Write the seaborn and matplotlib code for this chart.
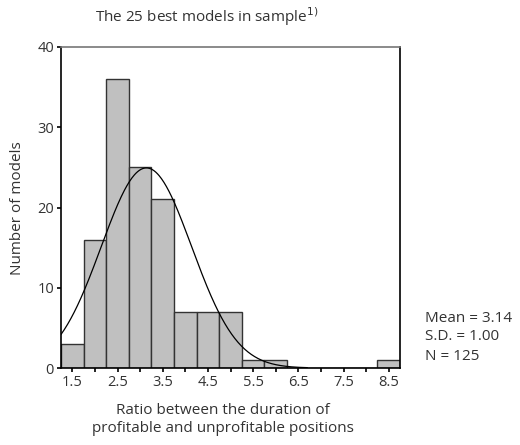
import numpy as np
import matplotlib
matplotlib.use("Agg")
import matplotlib.pyplot as plt
import seaborn as sns

# Data
bin_centers = [1.5, 2.0, 2.5, 3.0, 3.5, 4.0, 4.5, 5.0, 5.5, 6.0, 6.5, 7.0, 7.5, 8.0, 8.5]
counts = [3, 16, 36, 25, 21, 7, 7, 7, 1, 1, 0, 0, 0, 0, 1]
mean_val = 3.14
sd_val = 1.00
n_val = 125
bin_width = 0.5
xtick_labels = ["1.5", "", "2.5", "", "3.5", "", "4.5", "", "5.5", "", "6.5", "", "7.5", "", "8.5"]
yticks = [0, 10, 20, 30, 40]

sns.set_style("white")
plt.rcParams['font.family'] = ['Open Sans', 'DejaVu Sans']

fig = plt.figure(figsize=(5.2, 4.45), dpi=100)
ax = fig.add_axes([61/520, 1-368/445, (400-61)/520, (368-47)/445])

sns.histplot(x=bin_centers, weights=counts, binwidth=bin_width, binrange=(1.25, 8.75),
             color="#c0c0c0", edgecolor="#333333", linewidth=1.0, alpha=1, ax=ax)

xs = np.linspace(1.25, 6.7, 300)
ys = n_val * bin_width / (sd_val * np.sqrt(2 * np.pi)) * np.exp(-0.5 * ((xs - mean_val) / sd_val) ** 2)
sns.lineplot(x=xs, y=ys, color="black", linewidth=0.9, ax=ax)

ax.set_xlim(1.25, 8.75)
ax.set_ylim(0, 40)
ax.set_xticks(np.arange(1.5, 9.0, 0.5))
ax.set_xticklabels(xtick_labels)
ax.set_yticks(yticks)
ax.set_yticklabels([str(v) for v in yticks])
ax.tick_params(axis="both", direction="out", length=3, width=1.2, color="black",
               labelsize=10.5, labelcolor="#333333", bottom=True, left=True, pad=2)
ax.set_xlabel("")
ax.set_ylabel("")

for side in ["left", "bottom", "right"]:
    ax.spines[side].set_color("black")
    ax.spines[side].set_linewidth(1.2)
ax.spines["top"].set_color("#777777")
ax.spines["top"].set_linewidth(1.2)

txt = dict(fontsize=11, color="#333333")
fig.text(207/520, 1-17/445, "The 25 best models in sample$^{1)}$", ha="center", va="center", **txt)
fig.text(18/520, 1-208/445, "Number of models", rotation=90, ha="center", va="center", **txt)
fig.text(223/520, 1-411/445, "Ratio between the duration of", ha="center", va="center", **txt)
fig.text(223/520, 1-428/445, "profitable and unprofitable positions", ha="center", va="center", **txt)
fig.text(425/520, 1-318/445, f"Mean = {mean_val:.2f}", ha="left", va="center", **txt)
fig.text(425/520, 1-337/445, f"S.D. = {sd_val:.2f}", ha="left", va="center", **txt)
fig.text(425/520, 1-356/445, f"N = {n_val}", ha="left", va="center", **txt)

fig.savefig("out.png", dpi=100)
